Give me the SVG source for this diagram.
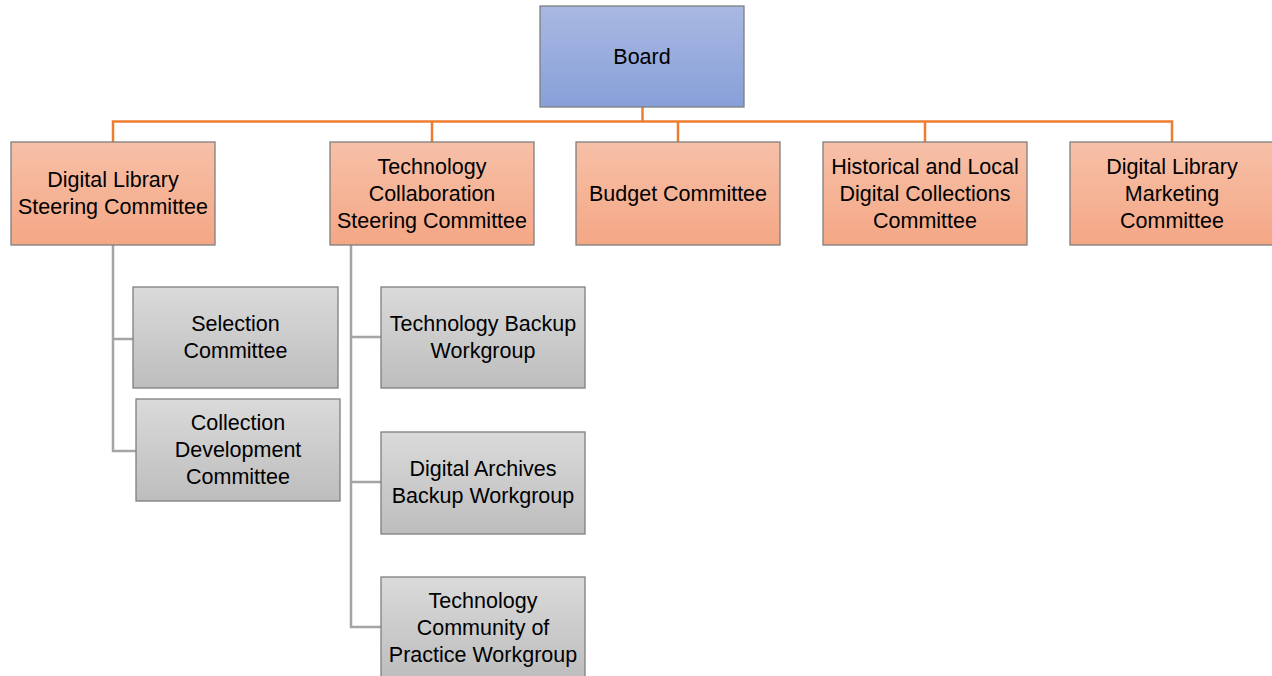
<svg xmlns="http://www.w3.org/2000/svg" width="1272" height="676" viewBox="0 0 1272 676">
<defs>
<linearGradient id="gBlue" x1="0" y1="0" x2="0" y2="1"><stop offset="0" stop-color="#A9B8E2"/><stop offset="1" stop-color="#87A0D8"/></linearGradient>
<linearGradient id="gOrange" x1="0" y1="0" x2="0" y2="1"><stop offset="0" stop-color="#F7C0A8"/><stop offset="1" stop-color="#F4A785"/></linearGradient>
<linearGradient id="gGray" x1="0" y1="0" x2="0" y2="1"><stop offset="0" stop-color="#DADADA"/><stop offset="1" stop-color="#BDBDBD"/></linearGradient>
</defs>
<style>
.box{stroke:#7F7F7F;stroke-width:1.3}
.blue{fill:url(#gBlue)}
.orange{fill:url(#gOrange)}
.gray{fill:url(#gGray)}
text{font-family:"Liberation Sans",Arial,sans-serif;font-size:21.5px;fill:#000;text-anchor:middle}
.oc{stroke:#ED7D31;stroke-width:2.5;fill:none}
.gc{stroke:#A5A5A5;stroke-width:2.5;fill:none}
</style>
<g id="connectors">
<path class="oc" d="M642.5,107 V121.5 M113,142 V121.5 H1172 V142 M432,121.5 V142 M678,121.5 V142 M925,121.5 V142"/>
<path class="gc" d="M113,245 V451 H136 M113,339 H133"/>
<path class="gc" d="M351,245 V627 H381 M351,337 H381 M351,482 H381"/>
</g>
<g id="board"><rect class="box blue" x="540" y="6" width="204" height="101"/><text x="642" y="64">Board</text></g>
<g id="dl-steering"><rect class="box orange" x="11" y="142" width="204" height="103"/><text x="113" y="187">Digital Library</text><text x="113" y="214">Steering Committee</text></g>
<g id="tech-collab"><rect class="box orange" x="330" y="142" width="204" height="103"/><text x="432" y="174">Technology</text><text x="432" y="201">Collaboration</text><text x="432" y="228">Steering Committee</text></g>
<g id="budget"><rect class="box orange" x="576" y="142" width="204" height="103"/><text x="678" y="201">Budget Committee</text></g>
<g id="historical"><rect class="box orange" x="823" y="142" width="204" height="103"/><text x="925" y="174">Historical and Local</text><text x="925" y="201">Digital Collections</text><text x="925" y="228">Committee</text></g>
<g id="marketing"><rect class="box orange" x="1070" y="142" width="204" height="103"/><text x="1172" y="174">Digital Library</text><text x="1172" y="201">Marketing</text><text x="1172" y="228">Committee</text></g>
<g id="selection"><rect class="box gray" x="133" y="287" width="205" height="101"/><text x="235.5" y="331">Selection</text><text x="235.5" y="358">Committee</text></g>
<g id="collection-dev"><rect class="box gray" x="136" y="399" width="204" height="102"/><text x="238" y="430">Collection</text><text x="238" y="457">Development</text><text x="238" y="484">Committee</text></g>
<g id="tech-backup"><rect class="box gray" x="381" y="287" width="204" height="101"/><text x="483" y="331">Technology Backup</text><text x="483" y="358">Workgroup</text></g>
<g id="archives-backup"><rect class="box gray" x="381" y="432" width="204" height="102"/><text x="483" y="476">Digital Archives</text><text x="483" y="503">Backup Workgroup</text></g>
<g id="community"><rect class="box gray" x="381" y="577" width="204" height="102"/><text x="483" y="608">Technology</text><text x="483" y="635">Community of</text><text x="483" y="662">Practice Workgroup</text></g>
</svg>
